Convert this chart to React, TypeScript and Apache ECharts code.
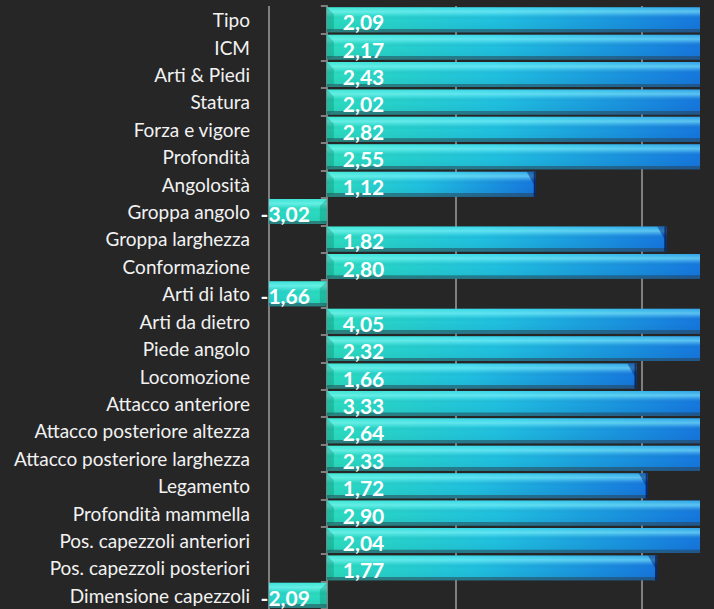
import React, { useEffect, useRef } from "react";
import * as echarts from "echarts";

const categories = [
  "Tipo",
  "ICM",
  "Arti & Piedi",
  "Statura",
  "Forza e vigore",
  "Profondità",
  "Angolosità",
  "Groppa angolo",
  "Groppa larghezza",
  "Conformazione",
  "Arti di lato",
  "Arti da dietro",
  "Piede angolo",
  "Locomozione",
  "Attacco anteriore",
  "Attacco posteriore altezza",
  "Attacco posteriore larghezza",
  "Legamento",
  "Profondità mammella",
  "Pos. capezzoli anteriori",
  "Pos. capezzoli posteriori",
  "Dimensione capezzoli",
];

const values = [
  2.09, 2.17, 2.43, 2.02, 2.82, 2.55, 1.12, -3.02, 1.82, 2.8, -1.66, 4.05, 2.32,
  1.66, 3.33, 2.64, 2.33, 1.72, 2.9, 2.04, 1.77, -2.09,
];

const axisMin = -0.31;
const axisMax = 2.0;
const axisInterval = 1;

const fmt = (v: number) => v.toFixed(2).replace(".", ",");

export default function App() {
  const ref = useRef<HTMLDivElement>(null);

  useEffect(() => {
    document.body.style.margin = "0";
    document.body.style.background = "#262626";
    const chart = echarts.init(ref.current!, undefined, { renderer: "svg" });

    const renderItem = (params: any, api: any) => {
      const v = api.value(0) as number;
      const idx = api.value(1) as number;
      const cs = params.coordSys;
      const left = cs.x;
      const right = cs.x + cs.width;
      const p0 = api.coord([0, idx]);
      const p1 = api.coord([v, idx]);
      const band = api.size([0, 1])[1];
      const h = band * 0.91;
      const cy = p0[1];
      const top = cy - h / 2;
      const bottom = top + h;
      const x0 = p0[0];
      const raw = p1[0];
      const x1 = Math.max(left, Math.min(right, raw));
      const clipped = raw > right + 0.5 || raw < left - 0.5;
      const pos = v >= 0;
      const rx = Math.min(x0, x1);
      const rw = Math.abs(x1 - x0);
      const dir = pos ? 1 : -1;
      const b = 7;

      const stops = [
        { offset: 0, color: "#2bdcbe" },
        { offset: 0.45, color: "#20c0e0" },
        { offset: 1, color: "#1677de" },
      ];
      let body: any;
      if (pos) {
        body = new echarts.graphic.LinearGradient(0, 0, 1, 0, stops);
      } else {
        const full = Math.abs(raw - x0);
        body = new echarts.graphic.LinearGradient(x0, 0, x0 - full, 0, stops, true);
      }
      const shade = new echarts.graphic.LinearGradient(0, 0, 0, 1, [
        { offset: 0, color: "rgba(110,255,255,0.32)" },
        { offset: 0.18, color: "rgba(150,255,255,0.55)" },
        { offset: 0.34, color: "rgba(150,255,255,0.12)" },
        { offset: 0.5, color: "rgba(0,0,0,0)" },
        { offset: 0.86, color: "rgba(0,0,0,0.04)" },
        { offset: 0.87, color: "rgba(40,60,75,0.55)" },
        { offset: 1, color: "rgba(40,60,75,0.55)" },
      ]);

      const children: any[] = [
        {
          type: "rect",
          shape: { x: rx, y: top, width: rw, height: h },
          style: { fill: body },
        },
        {
          type: "rect",
          shape: { x: rx, y: top, width: rw, height: h },
          style: { fill: shade },
        },
        {
          type: "polygon",
          shape: {
            points: [
              [x0, top],
              [x0 + dir * b, top + b],
              [x0 + dir * b, bottom - 3],
              [x0, bottom],
            ],
          },
          style: { fill: "rgba(0,110,90,0.28)" },
        },
      ];

      if (!clipped) {
        children.push(
          {
            type: "polygon",
            shape: {
              points: [
                [x1 - dir * b * 1.3, top],
                [x1, top],
                [x1, bottom],
                [x1 - dir * 2, bottom],
                [x1 - dir * 2, top + b * 1.8],
              ],
            },
            style: { fill: "rgba(0,25,110,0.45)" },
          },
          {
            type: "rect",
            shape: { x: pos ? x1 - 2 : x1, y: top, width: 2, height: h },
            style: { fill: "rgba(5,25,80,0.7)" },
          }
        );
      }

      children.push({
        type: "text",
        x: pos ? x0 + 16 : x0 - 17,
        y: cy + 2,
        style: {
          text: fmt(v),
          fill: "#ffffff",
          fontSize: 21,
          fontWeight: "bold",
          fontFamily: "Lato",
          align: pos ? "left" : "right",
          verticalAlign: "middle",
        },
      });

      return { type: "group", children };
    };

    chart.setOption({
      animation: false,
      backgroundColor: "#262626",
      grid: { left: 269, right: 14, top: 6, bottom: 0, containLabel: false },
      xAxis: {
        type: "value",
        min: axisMin,
        max: axisMax,
        interval: axisInterval,
        axisLabel: { show: false },
        axisLine: { show: false },
        axisTick: { show: false },
        splitLine: {
          show: true,
          showMaxLine: false,
          lineStyle: { color: "#7f7f7f", width: 2 },
        },
      },
      yAxis: [
        {
          type: "category",
          inverse: true,
          data: categories,
          position: "left",
          axisLine: { show: false, onZero: false },
          axisTick: { show: false },
          splitLine: { show: false },
          axisLabel: {
            color: "#f2f2f2",
            fontSize: 19,
            fontFamily: "Lato",
            margin: 19,
            interval: 0,
          },
        },
        {
          type: "category",
          inverse: true,
          data: categories,
          position: "left",
          axisLine: {
            show: true,
            onZero: true,
            lineStyle: { color: "#7f7f7f", width: 2 },
          },
          axisTick: {
            show: true,
            length: 6,
            interval: 0,
            lineStyle: { color: "#7f7f7f", width: 2 },
          },
          axisLabel: { show: false },
          splitLine: { show: false },
        },
      ],
      series: [
        {
          type: "custom",
          xAxisIndex: 0,
          yAxisIndex: 0,
          clip: false,
          renderItem,
          encode: { x: 0, y: 1 },
          data: values.map((v, i) => [v, i]),
        },
      ],
    });

    return () => chart.dispose();
  }, []);

  return (
    <div
      ref={ref}
      style={{ position: "absolute", left: 0, top: 0, width: 714, height: 609 }}
    />
  );
}
